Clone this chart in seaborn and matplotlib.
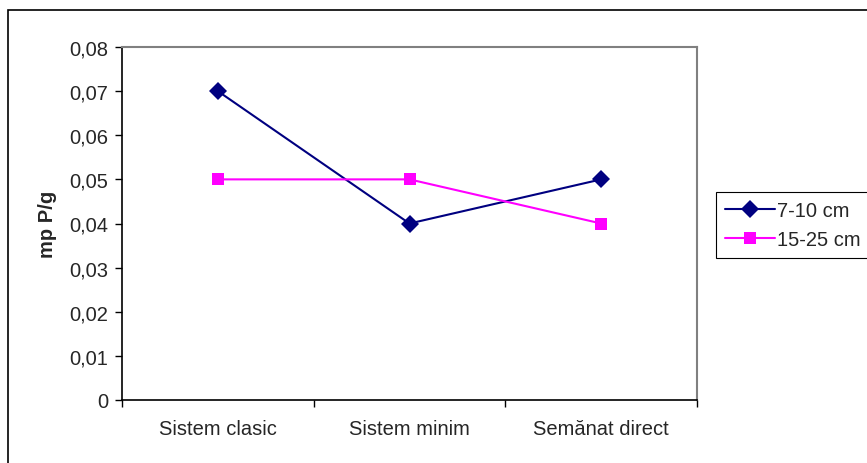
import pandas as pd
import matplotlib
matplotlib.use('Agg')
import matplotlib.pyplot as plt
import seaborn as sns
from matplotlib.patches import Rectangle

categories = ["Sistem clasic", "Sistem minim", "Semănat direct"]
series_names = ["7-10 cm", "15-25 cm"]
values_7_10 = [0.07, 0.04, 0.05]
values_15_25 = [0.05, 0.05, 0.04]
y_ticks = [0, 0.01, 0.02, 0.03, 0.04, 0.05, 0.06, 0.07, 0.08]
y_tick_labels = ["0", "0,01", "0,02", "0,03", "0,04", "0,05", "0,06", "0,07", "0,08"]

df = pd.DataFrame({
    "pos": list(range(len(categories))) * 2,
    "value": values_7_10 + values_15_25,
    "series": [series_names[0]] * 3 + [series_names[1]] * 3,
})

sns.set_style("white")
plt.rcParams['font.family'] = ['Liberation Sans', 'DejaVu Sans']

FS = 14.5

fig = plt.figure(figsize=(8.67, 4.64), dpi=100)
ax = fig.add_axes([122 / 867, 1 - 401 / 464, (697 - 122) / 867, (401 - 48) / 464])

sns.lineplot(data=df, x="pos", y="value", hue="series", style="series",
             palette=["#000080", "#FF00FF"], markers=["D", "s"], dashes=False,
             markersize=9, linewidth=1.5, markeredgewidth=0, ax=ax, legend=False)

ax.set_xlim(-0.5, 2.5)
ax.set_ylim(0, 0.08)
ax.set_yticks(y_ticks)
ax.set_yticklabels(y_tick_labels, fontsize=FS)
ax.set_xticks(range(len(categories)))
ax.set_xticklabels(categories, fontsize=FS)
ax.set_xticks([-0.5, 0.5, 1.5, 2.5], minor=True)
ax.tick_params(axis='x', which='major', length=0, pad=14)
ax.tick_params(axis='x', which='minor', direction='out', length=5, width=1, color='black', bottom=True)
ax.tick_params(axis='y', direction='out', length=5, width=1, color='black', left=True, pad=5)
ax.set_xlabel("")
ax.set_ylabel("mp P/g", fontsize=FS, fontweight='bold', labelpad=9)

for side in ["left", "bottom"]:
    ax.spines[side].set_color("black")
    ax.spines[side].set_linewidth(1.2)
for side in ["top", "right"]:
    ax.spines[side].set_color("#808080")
    ax.spines[side].set_linewidth(1.5)

handles = [
    plt.Line2D([], [], color="#000080", marker="D", markersize=9, markeredgewidth=0, linewidth=1.5),
    plt.Line2D([], [], color="#FF00FF", marker="s", markersize=9, markeredgewidth=0, linewidth=1.5),
]
leg = fig.legend(handles, series_names, loc="upper left",
                 bbox_to_anchor=(716 / 867, 1 - 193 / 464), fontsize=FS,
                 frameon=True, fancybox=False, framealpha=1, edgecolor="black",
                 handlelength=2.5, handletextpad=0.1, borderpad=0.45, labelspacing=0.5,
                 borderaxespad=0)
leg.get_frame().set_linewidth(0.8)

# outer chart frame
fig.patches.append(Rectangle((8 / 867, -0.05), 1.0, 1 - 11 / 464 + 0.05,
                             transform=fig.transFigure, fill=False,
                             edgecolor="black", linewidth=1.2))

fig.savefig("out.png", dpi=100)
